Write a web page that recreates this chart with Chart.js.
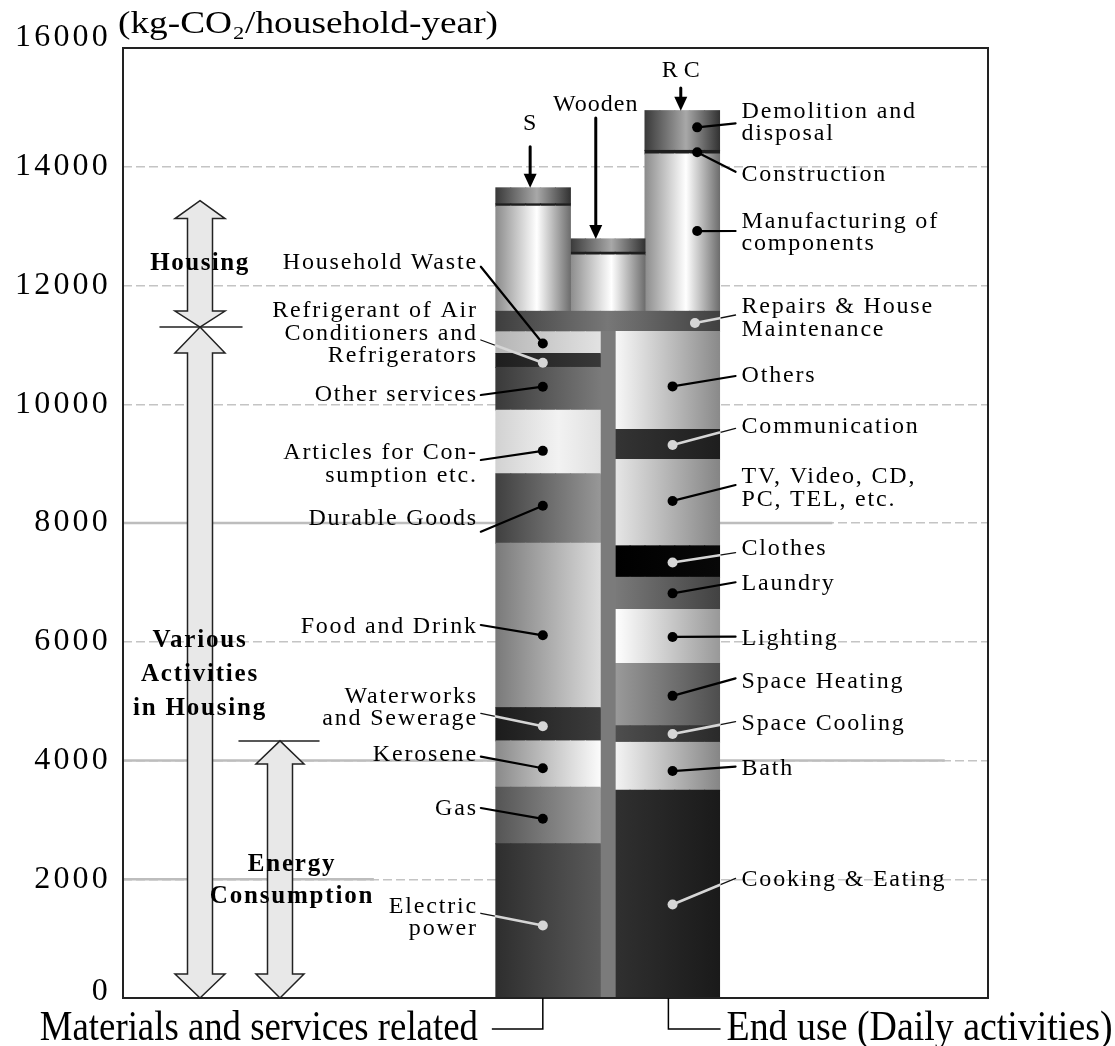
<!DOCTYPE html>
<html>
<head>
<meta charset="utf-8">
<script src="https://cdn.jsdelivr.net/npm/chart.js@4.4.0/dist/chart.umd.min.js"></script>
<style>
  html, body { margin: 0; padding: 0; background: #fff; }
  canvas { display: block; }
</style>
</head>
<body>
<canvas id="chartCO2" width="1115" height="1046"></canvas>
<script>
// kg-CO2 / household-year (bottom segment first)
const materialsLabels = ['Electric power', 'Gas', 'Kerosene', 'Waterworks and Sewerage', 'Food and Drink',
  'Durable Goods', 'Articles for Consumption etc.', 'Other services',
  'Refrigerant of Air Conditioners and Refrigerators', 'Household Waste'];
const materialsValues = [2600, 950, 780, 560, 2770, 1170, 1070, 720, 235, 365];

const endUseLabels = ['Cooking & Eating', 'Bath', 'Space Cooling', 'Space Heating', 'Lighting', 'Laundry',
  'Clothes', 'TV, Video, CD, PC, TEL, etc.', 'Communication', 'Others'];
const endUseValues = [3500, 805, 280, 1050, 910, 540, 530, 1455, 505, 1650];

const repairsLabel = 'Repairs & House Maintenance';
const repairsValue = 340;

const housingTypes = ['S', 'Wooden', 'R C'];
const manufacturingValues = [1770, 950, 2650];
const constructionValues = [40, 45, 60];
const demolitionValues = [270, 225, 670];

const energyCount = 3;          // electric power + gas + kerosene
const housingSplit = 11300;     // where the two big arrows meet
const housingArrowTop = 13430;

const yTicks = [0, 2000, 4000, 6000, 8000, 10000, 12000, 14000, 16000];

// ---- shading (styles) ----
const matShades = [
  [[0, '#2e2e2e'], [1, '#5a5a5a']],
  [[0, '#555555'], [1, '#a2a2a2']],
  [[0, '#8a8a8a'], [1, '#fbfbfb']],
  [[0, '#1c1c1c'], [1, '#3c3c3c']],
  [[0, '#7a7a7a'], [1, '#dcdcdc']],
  [[0, '#404040'], [1, '#979797']],
  [[0, '#d2d2d2'], [0.6, '#f2f2f2'], [1, '#e0e0e0']],
  [[0, '#3a3a3a'], [1, '#7a7a7a']],
  [[0, '#1e1e1e'], [1, '#383838']],
  [[0, '#b5b5b5'], [1, '#e2e2e2']]
];
const endShades = [
  [[0, '#303030'], [1, '#1a1a1a']],
  [[0, '#f4f4f4'], [1, '#868686']],
  [[0, '#4e4e4e'], [1, '#2a2a2a']],
  [[0, '#9a9a9a'], [1, '#4e4e4e']],
  [[0, '#ffffff'], [1, '#999999']],
  [[0, '#7a7a7a'], [1, '#424242']],
  [[0, '#000000'], [1, '#080808']],
  [[0, '#e6e6e6'], [1, '#858585']],
  [[0, '#343434'], [1, '#1e1e1e']],
  [[0, '#f8f8f8'], [1, '#8a8a8a']]
];
const repairsShade = [[0, '#3e3e3e'], [0.5, '#777777'], [1, '#404040']];
const separatorShade = [[0, '#7b7b7b'], [1, '#7b7b7b']];
const mfgShade = [[0, '#8c8c8c'], [0.55, '#ffffff'], [1, '#6e6e6e']];
const demoShade = [[0, '#3a3a3a'], [0.55, '#a8a8a8'], [1, '#333333']];
const constrShade = [[0, '#1e1e1e'], [1, '#1e1e1e']];

// ---- slots on the x axis (category index) ----
const N_SLOTS = 58;
const LEFT_COL = [25, 31], SEP_COL = [32, 32], RIGHT_COL = [33, 39];
const HOUSE_COLS = [[25, 29], [30, 34], [35, 39]];

// annotation text: lines, text centre (kg), leader end (kg), dot position inside its segment
const matNotes = [
  { lines: ['Electric', 'power'], ty: 1356, ly: 1427, f: 0.47, light: true },
  { lines: ['Gas'], ty: 3195, ly: 3200, f: 0.44 },
  { lines: ['Kerosene'], ty: 4093, ly: 4064, f: 0.41 },
  { lines: ['Waterworks', 'and Sewerage'], ty: 4893, ly: 4795, f: 0.44, light: true },
  { lines: ['Food and Drink'], ty: 6253, ly: 6282, f: 0.44 },
  { lines: ['Durable Goods'], ty: 8079, ly: 7853, f: 0.54 },
  { lines: ['Articles for Con-', 'sumption etc.'], ty: 8994, ly: 9061, f: 0.36 },
  { lines: ['Other services'], ty: 10156, ly: 10156, f: 0.55 },
  { lines: ['Refrigerant of Air', 'Conditioners and', 'Refrigerators'], ty: 11194, ly: 11082, f: 0.33, light: true },
  { lines: ['Household Waste'], ty: 12379, ly: 12316, f: 0.46 }
];
const endNotes = [
  { lines: ['Cooking & Eating'], ty: 1987, ly: 2016, f: 0.45, light: true },
  { lines: ['Bath'], ty: 3869, ly: 3896, f: 0.40 },
  { lines: ['Space Cooling'], ty: 4627, ly: 4653, f: 0.50, light: true },
  { lines: ['Space Heating'], ty: 5327, ly: 5384, f: 0.48 },
  { lines: ['Lighting'], ty: 6054, ly: 6085, f: 0.49 },
  { lines: ['Laundry'], ty: 6985, ly: 7002, f: 0.50 },
  { lines: ['Clothes'], ty: 7574, ly: 7500, f: 0.47, light: true },
  { lines: ['TV, Video, CD,', 'PC, TEL, etc.'], ty: 8584, ly: 8640, f: 0.52 },
  { lines: ['Communication'], ty: 9622, ly: 9595, f: 0.48, light: true },
  { lines: ['Others'], ty: 10476, ly: 10476, f: 0.44 }
];
const repairsNote = { lines: ['Repairs & House', 'Maintenance'], ty: 11448, ly: 11503, f: 0.42, light: true };
const rcNotes = {
  demolition: { lines: ['Demolition and', 'disposal'], ty: 14745, ly: 14732, f: 0.58 },
  construction: { lines: ['Construction'], ty: 13861, ly: 13916, f: 0.5 },
  manufacturing: { lines: ['Manufacturing of', 'components'], ty: 12893, ly: 12918, f: 0.51 }
};
const typeNotes = [ // label centre and arrow start (kg)
  { ty: 14720, from: 14338, fx: 0.46 },
  { ty: 15040, from: 14821, fx: 0.34 },
  { ty: 15613, from: 15326, fx: 0.48 }
];
// solid pieces that sit on some grid lines: [value, from, to] as fractions of the plot width
const solidGrid = [[2000, 0, 0.29], [4000, 0, 0.43], [4000, 0.69, 0.95], [8000, 0, 0.43], [8000, 0.69, 0.82]];

// ---- stack the values ----
function stackUp(values, base) {
  let s = base;
  return values.map(v => { const r = [s, s + v]; s += v; return r; });
}
const matRanges = stackUp(materialsValues, 0);
const endRanges = stackUp(endUseValues, 0);
const activitiesTop = Math.max(matRanges[matRanges.length - 1][1], endRanges[endRanges.length - 1][1]);
const repairsRange = [activitiesTop, activitiesTop + repairsValue];
const houseRanges = housingTypes.map((t, i) =>
  stackUp([manufacturingValues[i], constructionValues[i], demolitionValues[i]], repairsRange[1]));
const energyTop = matRanges[energyCount - 1][1];

const slots = Array.from({ length: N_SLOTS }, (_, i) => i);
function band(cols, range) {
  return slots.map(i => (i >= cols[0] && i <= cols[1]) ? range : null);
}
function shade(cols, stops) {
  return (ctx) => {
    const chart = ctx.chart;
    const xs = chart.scales.x;
    if (!chart.chartArea || !xs) return stops[0][1];
    const half = (xs.getPixelForValue(1) - xs.getPixelForValue(0)) / 2;
    const g = chart.ctx.createLinearGradient(xs.getPixelForValue(cols[0]) - half, 0,
      xs.getPixelForValue(cols[1]) + half, 0);
    stops.forEach(s => g.addColorStop(s[0], s[1]));
    return g;
  };
}

const datasets = [];
materialsLabels.forEach((lab, i) => datasets.push({
  label: lab, data: band(LEFT_COL, matRanges[i]), backgroundColor: shade(LEFT_COL, matShades[i])
}));
datasets.push({ label: 'sep', data: band(SEP_COL, [0, activitiesTop]), backgroundColor: shade(SEP_COL, separatorShade) });
endUseLabels.forEach((lab, i) => datasets.push({
  label: lab, data: band(RIGHT_COL, endRanges[i]), backgroundColor: shade(RIGHT_COL, endShades[i])
}));
datasets.push({ label: repairsLabel, data: band([LEFT_COL[0], RIGHT_COL[1]], repairsRange),
  backgroundColor: shade([LEFT_COL[0], RIGHT_COL[1]], repairsShade) });
housingTypes.forEach((t, i) => {
  const cols = HOUSE_COLS[i];
  datasets.push({ label: t + ' manufacturing', data: band(cols, houseRanges[i][0]), backgroundColor: shade(cols, mfgShade) });
  datasets.push({ label: t + ' construction', data: band(cols, houseRanges[i][1]), backgroundColor: shade(cols, constrShade) });
  datasets.push({ label: t + ' demolition', data: band(cols, houseRanges[i][2]), backgroundColor: shade(cols, demoShade) });
});

const SERIF = '"Liberation Serif", "DejaVu Serif", serif';
const noteFont = '24px ' + SERIF;
const boldFont = 'bold 25px ' + SERIF;

function text(c, s, x, y, align, font, spacing) {
  c.font = font;
  c.textAlign = align;
  c.textBaseline = 'middle';
  c.letterSpacing = (spacing || 0) + 'px';
  c.fillStyle = '#000';
  c.fillText(s, x, y);
  c.letterSpacing = '0px';
}
function fitText(c, s, x, y, align, font, width) {
  c.font = font;
  c.letterSpacing = '0px';
  const w = c.measureText(s).width;
  c.save();
  c.translate(x, y);
  c.scale(width / w, 1);
  c.textAlign = align;
  c.textBaseline = 'alphabetic';
  c.fillStyle = '#000';
  c.fillText(s, 0, 0);
  c.restore();
}
function seg(c, x0, y0, x1, y1, color, w) {
  c.beginPath();
  c.moveTo(x0, y0);
  c.lineTo(x1, y1);
  c.strokeStyle = color;
  c.lineWidth = w;
  c.stroke();
}
function dot(c, x, y, color) {
  c.beginPath();
  c.arc(x, y, 5, 0, Math.PI * 2);
  c.fillStyle = color;
  c.fill();
}
function leader(c, x0, y0, x1, y1, edgeX, light) {
  c.lineCap = 'round';
  if (!light) {
    seg(c, x0, y0, x1, y1, '#000', 2.2);
    dot(c, x1, y1, '#000');
  } else {
    seg(c, x0, y0, x1, y1, '#111', 1.3);
    const t = (edgeX - x0) / (x1 - x0);
    seg(c, edgeX, y0 + t * (y1 - y0), x1, y1, '#d6d6d6', 2.6);
    dot(c, x1, y1, '#d6d6d6');
  }
}
function noteLines(c, note, x, yPix, align, font, spacing, lh) {
  const n = note.lines.length;
  note.lines.forEach((s, k) => text(c, s, x, yPix + (k - (n - 1) / 2) * lh, align, font, spacing));
}
function doubleArrow(c, cx, yTop, yBot, headTop, headBot, hw, sw) {
  c.beginPath();
  c.moveTo(cx, yTop);
  c.lineTo(cx + hw, yTop + headTop);
  c.lineTo(cx + sw, yTop + headTop);
  c.lineTo(cx + sw, yBot - headBot);
  c.lineTo(cx + hw, yBot - headBot);
  c.lineTo(cx, yBot);
  c.lineTo(cx - hw, yBot - headBot);
  c.lineTo(cx - sw, yBot - headBot);
  c.lineTo(cx - sw, yTop + headTop);
  c.lineTo(cx - hw, yTop + headTop);
  c.closePath();
  c.fillStyle = '#e8e8e8';
  c.fill();
  c.strokeStyle = '#222';
  c.lineWidth = 1.5;
  c.lineJoin = 'miter';
  c.stroke();
}
function downArrow(c, x, y0, y1) {
  seg(c, x, y0, x, y1 - 12, '#000', 3);
  c.beginPath();
  c.moveTo(x - 6.5, y1 - 14);
  c.lineTo(x + 6.5, y1 - 14);
  c.lineTo(x, y1);
  c.closePath();
  c.fillStyle = '#000';
  c.fill();
}

const notesPlugin = {
  id: 'notesPlugin',
  beforeDatasetsDraw(chart) {
    const c = chart.ctx, a = chart.chartArea, ys = chart.scales.y;
    c.save();
    c.lineCap = 'butt';
    solidGrid.forEach(([v, f0, f1]) => {
      const y = ys.getPixelForValue(v);
      seg(c, a.left + f0 * (a.right - a.left), y, a.left + f1 * (a.right - a.left), y, '#bdbdbd', 2.5);
    });
    c.restore();
  },
  afterDatasetsDraw(chart) {
    const c = chart.ctx, a = chart.chartArea, xs = chart.scales.x, ys = chart.scales.y;
    const half = (xs.getPixelForValue(1) - xs.getPixelForValue(0)) / 2;
    const colL = cols => xs.getPixelForValue(cols[0]) - half;
    const colR = cols => xs.getPixelForValue(cols[1]) + half;
    const colX = (cols, f) => colL(cols) + f * (colR(cols) - colL(cols));
    const Y = v => ys.getPixelForValue(v);
    const inSeg = (r, f) => Y(r[0] + f * (r[1] - r[0]));

    c.save();
    // frame
    c.strokeStyle = '#222';
    c.lineWidth = 2;
    c.strokeRect(a.left, a.top, a.right - a.left, a.bottom - a.top);

    // y tick labels
    ys.ticks.forEach(t => {
      const dy = t.value === ys.max ? -10 : (t.value === 0 ? -6 : 0);
      text(c, String(t.value), a.left - 12, Y(t.value) + dy, 'right', '32px ' + SERIF, 3.2);
    });

    // materials notes (left side)
    const lEdge = colL(LEFT_COL);
    const lx = colX(LEFT_COL, 0.45);
    matNotes.forEach((n, i) => {
      noteLines(c, n, lEdge - 18, Y(n.ty), 'right', noteFont, 1.8, 22.5);
      leader(c, lEdge - 15, Y(n.ly), lx, inSeg(matRanges[i], n.f), lEdge, n.light);
    });

    // end use notes (right side)
    const rEdge = colR(RIGHT_COL);
    const rx = colX(RIGHT_COL, 0.55);
    endNotes.forEach((n, i) => {
      noteLines(c, n, rEdge + 22, Y(n.ty), 'left', noteFont, 1.8, 22.5);
      leader(c, rEdge + 16, Y(n.ly), rx, inSeg(endRanges[i], n.f), rEdge, n.light);
    });

    // repairs
    const wide = [LEFT_COL[0], RIGHT_COL[1]];
    noteLines(c, repairsNote, rEdge + 22, Y(repairsNote.ty), 'left', noteFont, 1.8, 22.5);
    leader(c, rEdge + 16, Y(repairsNote.ly), colX(wide, 0.89), inSeg(repairsRange, repairsNote.f), rEdge, true);

    // RC housing parts
    const rc = HOUSE_COLS[2];
    const hx = colX(rc, 0.70);
    [['manufacturing', 0], ['construction', 1], ['demolition', 2]].forEach(([k, j]) => {
      const n = rcNotes[k];
      noteLines(c, n, rEdge + 22, Y(n.ty), 'left', noteFont, 1.8, 22.5);
      leader(c, rEdge + 16, Y(n.ly), hx, inSeg(houseRanges[2][j], n.f), rEdge, false);
    });

    // housing type labels with arrows
    housingTypes.forEach((t, i) => {
      const cols = HOUSE_COLS[i];
      const ax = colX(cols, typeNotes[i].fx);
      const top = houseRanges[i][2][1];
      text(c, t, ax, Y(typeNotes[i].ty), 'center', noteFont, t === 'R C' ? 0 : 1);
      downArrow(c, ax, Y(typeNotes[i].from), Y(top));
    });

    // big double arrows on the left
    const hxA = a.left + 77, exA = a.left + 157;
    doubleArrow(c, hxA, Y(housingArrowTop), Y(housingSplit), 18, 16, 25, 12.5);
    doubleArrow(c, hxA, Y(housingSplit), Y(0), 26, 24, 25, 12.5);
    doubleArrow(c, exA, Y(energyTop), Y(0), 23, 24, 24, 12.5);
    seg(c, hxA - 40, Y(housingSplit), hxA + 42, Y(housingSplit), '#222', 1.5);
    seg(c, exA - 41, Y(energyTop), exA + 39, Y(energyTop), '#222', 1.5);

    text(c, 'Housing', hxA, Y(12374), 'center', boldFont, 1.5);
    ['Various', 'Activities', 'in Housing'].forEach((s, k) =>
      text(c, s, hxA, Y(5440) + (k - 1) * 34, 'center', boldFont, 1.8));
    text(c, 'Energy', exA + 12, Y(2240), 'center', boldFont, 1.8);
    text(c, 'Consumption', exA + 12, Y(1706), 'center', boldFont, 1.8);

    // unit label
    fitText(c, '(kg-CO\u2082/household-year)', a.left - 5, a.top - 15, 'left', '31px ' + SERIF, 380);

    // brackets and bottom captions
    const bl = colX(LEFT_COL, 0.45), br = colX(RIGHT_COL, 0.51);
    c.lineCap = 'butt';
    c.beginPath();
    c.moveTo(bl, a.bottom); c.lineTo(bl, a.bottom + 31); c.lineTo(lEdge - 4, a.bottom + 31);
    c.moveTo(br, a.bottom); c.lineTo(br, a.bottom + 31); c.lineTo(rEdge + 1, a.bottom + 31);
    c.strokeStyle = '#000';
    c.lineWidth = 1.5;
    c.stroke();
    fitText(c, 'Materials and services related', lEdge - 18, a.bottom + 42, 'right', '42px ' + SERIF, 438);
    fitText(c, 'End use (Daily activities)', rEdge + 7, a.bottom + 42, 'left', '42px ' + SERIF, 386);
    c.restore();
  }
};

new Chart(document.getElementById('chartCO2'), {
  type: 'bar',
  data: { labels: slots.map(String), datasets: datasets },
  options: {
    responsive: false,
    animation: false,
    devicePixelRatio: 1,
    layout: { padding: { left: 0, right: 127, top: 48, bottom: 48 } },
    datasets: {
      bar: {
        grouped: false,
        barPercentage: 1,
        categoryPercentage: 1,
        borderWidth: 0,
        inflateAmount: 0.5
      }
    },
    plugins: {
      legend: { display: false },
      tooltip: { enabled: false },
      title: { display: false }
    },
    scales: {
      x: { display: false },
      y: {
        min: 0,
        max: 16000,
        afterFit: s => { s.width = 123; },
        afterBuildTicks: s => { s.ticks = yTicks.map(v => ({ value: v })); },
        ticks: { display: false },
        grid: {
          color: ctx => (ctx.tick && (ctx.tick.value === 0 || ctx.tick.value === 16000)) ? 'rgba(0,0,0,0)' : '#c4c4c4',
          lineWidth: 1.5,
          drawTicks: false
        },
        border: { display: false, dash: [9, 4] }
      }
    }
  },
  plugins: [notesPlugin]
});
</script>
</body>
</html>
